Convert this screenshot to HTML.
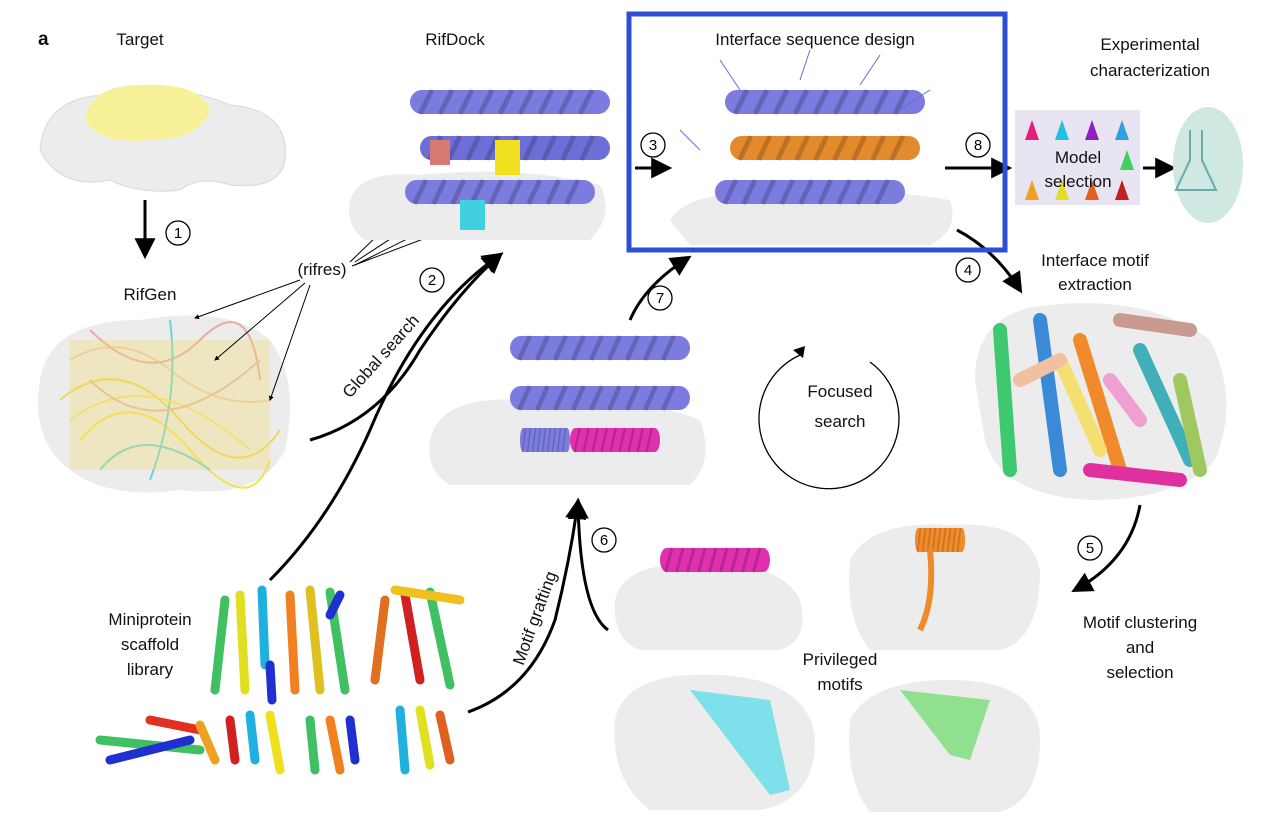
<!DOCTYPE html>
<html><head><meta charset="utf-8"><style>
html,body{margin:0;padding:0;background:#fff;}
svg{display:block;font-family:"Liberation Sans",Arial,sans-serif;}
</style></head><body>
<svg width="1280" height="822" viewBox="0 0 1280 822" xmlns="http://www.w3.org/2000/svg">
<defs>
<marker id="ah" viewBox="0 0 10 10" refX="8" refY="5" markerWidth="7" markerHeight="7" orient="auto"><path d="M0,0 L10,5 L0,10 z" fill="#000"/></marker>
<marker id="ahs" viewBox="0 0 10 10" refX="8" refY="5" markerWidth="5" markerHeight="5" orient="auto"><path d="M0,0 L10,5 L0,10 z" fill="#000"/></marker>
<g id="helix">
<rect x="0" y="-12" width="200" height="24" rx="12" fill="currentColor"/>
<path d="M10,12 l12,-24 M30,12 l12,-24 M50,12 l12,-24 M70,12 l12,-24 M90,12 l12,-24 M110,12 l12,-24 M130,12 l12,-24 M150,12 l12,-24 M170,12 l12,-24" stroke="#000" stroke-opacity="0.18" stroke-width="5"/>
</g>
</defs>
<g font-size="17" fill="#111">
<text x="38" y="45" font-weight="bold" font-size="19">a</text>
<text x="140" y="45" text-anchor="middle">Target</text>
<text x="455" y="45" text-anchor="middle">RifDock</text>
<text x="815" y="45" text-anchor="middle">Interface sequence design</text>
<text x="1150" y="50" text-anchor="middle">Experimental</text>
<text x="1150" y="76" text-anchor="middle">characterization</text>
<text x="150" y="300" text-anchor="middle">RifGen</text>
<text x="322" y="275" text-anchor="middle">(rifres)</text>
<text x="1095" y="266" text-anchor="middle">Interface motif</text>
<text x="1095" y="290" text-anchor="middle">extraction</text>
<text x="840" y="397" text-anchor="middle">Focused</text>
<text x="840" y="427" text-anchor="middle">search</text>
<text x="150" y="625" text-anchor="middle">Miniprotein</text>
<text x="150" y="650" text-anchor="middle">scaffold</text>
<text x="150" y="675" text-anchor="middle">library</text>
<text x="840" y="665" text-anchor="middle">Privileged</text>
<text x="840" y="690" text-anchor="middle">motifs</text>
<text x="1140" y="628" text-anchor="middle">Motif clustering</text>
<text x="1140" y="653" text-anchor="middle">and</text>
<text x="1140" y="678" text-anchor="middle">selection</text>
<text transform="translate(385,360) rotate(-48)" text-anchor="middle">Global search</text>
<text transform="translate(540,620) rotate(-70)" text-anchor="middle">Motif grafting</text>
</g>

<!-- Target -->
<path d="M40,150 Q45,95 110,95 Q170,80 230,105 Q290,110 285,160 Q280,190 230,185 Q200,175 180,190 Q140,195 110,180 Q60,190 40,150z" fill="#ececec" stroke="#d8d8d8"/>
<path d="M85,120 Q90,85 140,85 Q200,82 210,110 Q200,140 150,140 Q100,145 85,120z" fill="#f7f29a"/>
<line x1="145" y1="200" x2="145" y2="255" stroke="#000" stroke-width="3" marker-end="url(#ah)"/>

<!-- RifGen -->
<path d="M40,380 Q50,320 140,320 Q230,305 270,340 Q300,380 285,450 Q260,500 180,490 Q110,500 70,470 Q30,440 40,380z" fill="#ececec"/>
<g stroke-width="2" fill="none" opacity="0.85">
<path d="M70,360 Q120,330 170,370 T270,400" stroke="#e8c8a0"/><path d="M60,400 Q120,350 180,420 T280,430" stroke="#f0d040"/>
<path d="M80,440 Q130,380 190,450 T270,460" stroke="#f2e030"/><path d="M90,330 Q150,390 200,340 T260,380" stroke="#e8a090"/>
<path d="M100,470 Q140,420 210,470" stroke="#50d0d8"/><path d="M170,320 Q180,400 150,480" stroke="#50d0d8"/>
<path d="M70,420 Q150,360 250,450" stroke="#f4e060"/><path d="M90,380 Q160,450 260,360" stroke="#e0b0a0"/>
</g>
<rect x="70" y="340" width="200" height="130" fill="#f3dc70" opacity="0.35"/>

<!-- rifres arrows -->
<g stroke="#000" stroke-width="1" marker-end="url(#ahs)">
<line x1="300" y1="280" x2="195" y2="318"/><line x1="305" y1="283" x2="215" y2="360"/>
<line x1="310" y1="285" x2="270" y2="400"/><line x1="350" y1="262" x2="440" y2="175"/>
<line x1="355" y1="262" x2="450" y2="200"/><line x1="355" y1="265" x2="455" y2="215"/><line x1="352" y1="266" x2="460" y2="225"/>
</g>

<!-- RifDock protein -->
<path d="M350,200 Q360,170 420,175 Q520,165 600,185 Q615,215 590,240 L365,240 Q345,225 350,200z" fill="#ececec"/>
<use href="#helix" transform="translate(410,102)" color="#7b7be0"/>
<use href="#helix" transform="translate(420,148) scale(0.95,1)" color="#6e6ed8"/>
<use href="#helix" transform="translate(405,192) scale(0.95,1)" color="#7b7be0"/>
<rect x="430" y="140" width="20" height="25" fill="#d87a70"/><rect x="495" y="140" width="25" height="35" fill="#f0e020"/><rect x="460" y="200" width="25" height="30" fill="#40d0e0"/>

<!-- circle labels -->
<g fill="#fff" stroke="#000" stroke-width="1.3"><circle cx="178" cy="233" r="12"/><circle cx="432" cy="280" r="12"/><circle cx="653" cy="145" r="12"/><circle cx="978" cy="145" r="12"/><circle cx="968" cy="270" r="12"/><circle cx="1090" cy="548" r="12"/><circle cx="660" cy="298" r="12"/><circle cx="604" cy="540" r="12"/></g>
<g font-size="15" text-anchor="middle" fill="#000"><text x="178" y="238">1</text><text x="432" y="285">2</text><text x="653" y="150">3</text><text x="978" y="150">8</text><text x="968" y="275">4</text><text x="1090" y="553">5</text><text x="660" y="303">7</text><text x="604" y="545">6</text></g>

<!-- arrows -->
<g stroke="#000" stroke-width="3" fill="none" marker-end="url(#ah)">
<path d="M310,440 Q380,420 420,350 Q460,290 500,255"/>
<path d="M270,580 Q330,520 370,430 Q420,310 500,255"/>
<path d="M468,712 Q530,690 555,620 Q570,560 578,502"/>
<path d="M608,630 Q580,610 578,502"/>
<path d="M630,320 Q645,285 688,258"/>
<path d="M635,168 L668,168"/>
<path d="M945,168 L1008,168"/>
<path d="M1143,168 L1172,168"/>
<path d="M957,230 Q995,250 1020,290"/>
<path d="M1140,505 Q1130,560 1075,590"/>
</g>
<path d="M800,355 A70,70 0 1 0 870,362" stroke="#000" stroke-width="1.3" fill="none"/>
<path d="M793,350 l12,-4 l-2,12z" fill="#000"/>

<!-- Interface design box -->
<rect x="629" y="14" width="376" height="236" fill="none" stroke="#2d4fd8" stroke-width="5"/>
<path d="M670,220 Q690,190 760,195 Q860,185 950,200 Q960,230 930,245 L690,245z" fill="#ececec"/>
<use href="#helix" transform="translate(725,102)" color="#7b7be0"/>
<use href="#helix" transform="translate(730,148) scale(0.95,1)" color="#e38a2c"/>
<use href="#helix" transform="translate(715,192) scale(0.95,1)" color="#7b7be0"/>
<g stroke="#6a6ad0" stroke-width="1"><line x1="740" y1="90" x2="720" y2="60"/><line x1="800" y1="80" x2="810" y2="50"/><line x1="860" y1="85" x2="880" y2="55"/><line x1="900" y1="110" x2="930" y2="90"/><line x1="700" y1="150" x2="680" y2="130"/></g>

<!-- Model selection -->
<rect x="1015" y="110" width="125" height="95" fill="#e8e4f2"/>
<g>
<path d="M1025,140 l7,-20 l7,20z" fill="#e0207a"/><path d="M1055,140 l7,-20 l7,20z" fill="#20c0e0"/><path d="M1085,140 l7,-20 l7,20z" fill="#9020c0"/><path d="M1115,140 l7,-20 l7,20z" fill="#30a0e0"/>
<path d="M1025,200 l7,-20 l7,20z" fill="#f0a020"/><path d="M1055,200 l7,-20 l7,20z" fill="#e0e020"/><path d="M1085,200 l7,-20 l7,20z" fill="#e06020"/><path d="M1115,200 l7,-20 l7,20z" fill="#c02020"/>
<path d="M1120,170 l7,-20 l7,20z" fill="#40d060"/>
</g>
<text x="1078" y="163" font-size="17" text-anchor="middle" fill="#111">Model</text>
<text x="1078" y="187" font-size="17" text-anchor="middle" fill="#111">selection</text>
<ellipse cx="1208" cy="165" rx="35" ry="58" fill="#cfe8e2"/>
<path d="M1190,130 v30 l-14,30 h40 l-14,-30 v-30" fill="none" stroke="#6aa" stroke-width="2"/>

<!-- Motif extraction ball -->
<path d="M975,380 Q975,310 1050,305 Q1150,295 1210,340 Q1240,400 1215,460 Q1180,500 1090,500 Q1000,495 985,440z" fill="#ececec"/>
<g stroke-width="14" stroke-linecap="round" fill="none">
<path d="M1000,330 L1010,470" stroke="#3ec870"/><path d="M1040,320 L1060,470" stroke="#3a8ad8"/><path d="M1080,340 L1120,470" stroke="#f08a2a"/>
<path d="M1120,320 L1190,330" stroke="#c89a90"/><path d="M1140,350 L1190,460" stroke="#40b0b8"/><path d="M1180,380 L1200,470" stroke="#a0c860"/>
<path d="M1060,360 L1100,450" stroke="#f4e070"/><path d="M1090,470 L1180,480" stroke="#e030a0"/><path d="M1020,380 L1060,360" stroke="#f0c0a0"/><path d="M1110,380 L1140,420" stroke="#f0a0d0"/>
</g>

<!-- Middle protein -->
<path d="M430,440 Q440,395 520,400 Q620,390 700,420 Q715,460 690,485 L450,485 Q425,470 430,440z" fill="#ececec"/>
<use href="#helix" transform="translate(510,348) scale(0.9,1)" color="#7b7be0"/>
<use href="#helix" transform="translate(510,398) scale(0.9,1)" color="#7b7be0"/>
<use href="#helix" transform="translate(570,440) scale(0.45,1)" color="#e030b0"/>
<use href="#helix" transform="translate(520,440) scale(0.25,1)" color="#7b7be0"/>

<!-- Scaffolds -->
<g stroke-width="9" stroke-linecap="round" fill="none">
<path d="M225,600 L215,690" stroke="#40c060"/><path d="M240,595 L245,690" stroke="#e0e020"/><path d="M262,590 L265,665" stroke="#20b0e0"/><path d="M270,665 L272,700" stroke="#2030d0"/>
<path d="M290,595 L295,690" stroke="#f08020"/><path d="M310,590 L320,690" stroke="#e0c020"/><path d="M330,592 L345,690" stroke="#40c060"/><path d="M340,595 L330,615" stroke="#2030d0"/>
<path d="M385,600 L375,680" stroke="#e07020"/><path d="M405,595 L420,680" stroke="#d02020"/><path d="M430,592 L450,685" stroke="#40c060"/><path d="M395,590 L460,600" stroke="#f0c020"/>
<path d="M100,740 L200,750" stroke="#40c060"/><path d="M110,760 L190,740" stroke="#2030d0"/><path d="M150,720 L200,730" stroke="#e03020"/><path d="M200,725 L215,760" stroke="#f0a020"/>
<path d="M230,720 L235,760" stroke="#d02020"/><path d="M250,715 L255,760" stroke="#20b0e0"/><path d="M270,715 L280,770" stroke="#f0e020"/>
<path d="M310,720 L315,770" stroke="#40c060"/><path d="M330,720 L340,770" stroke="#f08020"/><path d="M350,720 L355,760" stroke="#2030d0"/>
<path d="M400,710 L405,770" stroke="#20b0e0"/><path d="M420,710 L430,765" stroke="#e0e020"/><path d="M440,715 L450,760" stroke="#e06020"/>
</g>

<!-- Motifs -->
<path d="M615,600 Q625,560 700,565 Q780,560 800,600 Q810,640 780,650 L640,650 Q612,640 615,600z" fill="#ececec"/>
<use href="#helix" transform="translate(660,560) scale(0.55,1)" color="#e030b0"/>
<path d="M850,560 Q870,520 950,525 Q1030,520 1040,570 Q1040,640 1000,650 L870,650 Q845,620 850,560z" fill="#ececec"/>
<use href="#helix" transform="translate(915,540) scale(0.25,1)" color="#f08a2a"/>
<path d="M930,550 Q935,600 920,630" stroke="#f08a2a" stroke-width="6" fill="none"/>
<path d="M615,720 Q625,670 720,675 Q810,680 815,740 Q815,800 760,810 L650,810 Q610,780 615,720z" fill="#ececec"/>
<path d="M690,690 L770,700 L790,790 L770,795 Z" fill="#7de0ea"/>
<path d="M850,720 Q870,680 950,680 Q1040,680 1040,740 Q1040,800 1000,812 L870,812 Q845,780 850,720z" fill="#ececec"/>
<path d="M900,690 L990,700 L970,760 L950,755 Z" fill="#90e090"/>
</svg>
</body></html>
